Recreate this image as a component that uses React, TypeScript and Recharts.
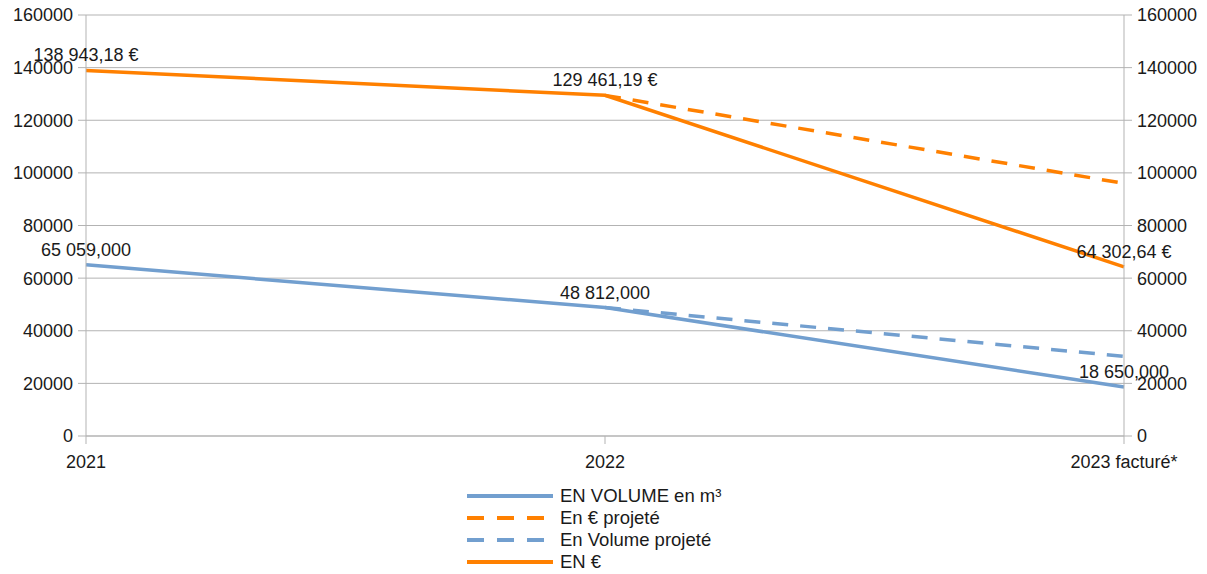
import React from 'react';
import { LineChart, Line, XAxis, YAxis, CartesianGrid, Legend, LabelList } from 'recharts';

const categories = ['2021', '2022', '2023 facturé*'];
const volume = [65059, 48812, 18650];
const euros = [138943.18, 129461.19, 64302.64];
const eurosProjected = [null, 129461.19, 96000];
const volumeProjected = [null, 48812, 30300];
const yTicks = [0, 20000, 40000, 60000, 80000, 100000, 120000, 140000, 160000];

const BLUE = '#729fcf';
const ORANGE = '#ff8000';
const GRID = '#b3b3b3';
const TEXT = '#1a1a1a';
const FONT = '"Liberation Sans", Arial, sans-serif';

const data = categories.map((c, i) => ({
  cat: c,
  volume: volume[i],
  euros: euros[i],
  eurosProjected: eurosProjected[i],
  volumeProjected: volumeProjected[i],
}));

function groupThousands(s: string) {
  return s.replace(/\B(?=(\d{3})+(?!\d))/g, ' ');
}
function fmtEuro(v: any) {
  const [i, d] = Number(v).toFixed(2).split('.');
  return `${groupThousands(i)},${d} €`;
}
function fmtVol(v: any) {
  const [i, d] = Number(v).toFixed(3).split('.');
  return `${groupThousands(i)},${d}`;
}

const legendItems = [
  { label: 'EN VOLUME en m³', color: BLUE, dash: undefined },
  { label: 'En € projeté', color: ORANGE, dash: '17 13' },
  { label: 'En Volume projeté', color: BLUE, dash: '17 13' },
  { label: 'EN €', color: ORANGE, dash: undefined },
];

const renderLegend = () => (
  <div style={{ marginLeft: 459, fontFamily: FONT, fontSize: 18.5, color: TEXT }}>
    {legendItems.map((it) => (
      <div key={it.label} style={{ display: 'flex', alignItems: 'center', height: 22 }}>
        <svg width={86} height={22} style={{ display: 'block' }}>
          <line x1={0} y1={11} x2={86} y2={11} stroke={it.color} strokeWidth={4} strokeDasharray={it.dash} />
        </svg>
        <span style={{ marginLeft: 7, lineHeight: '22px', whiteSpace: 'nowrap' }}>{it.label}</span>
      </div>
    ))}
  </div>
);

const tickStyle = { fontSize: 18, fill: TEXT, fontFamily: FONT };

export default function App() {
  return (
    <div style={{ width: 1191, height: 566, fontFamily: FONT }}>
      <LineChart width={1191} height={566} data={data} margin={{ top: 7, right: 0, left: 0, bottom: 1 }}>
        <CartesianGrid yAxisId="left" vertical={false} stroke={GRID} strokeWidth={1} />
        <XAxis
          dataKey="cat"
          scale="point"
          padding={{ left: 0, right: 0 }}
          interval={0}
          height={49}
          tickSize={8}
          tickMargin={11}
          tick={tickStyle}
          stroke={GRID}
          axisLine={{ stroke: GRID }}
          tickLine={{ stroke: GRID }}
        />
        <YAxis
          yAxisId="left"
          orientation="left"
          width={78}
          domain={[0, 160000]}
          ticks={yTicks}
          interval={0}
          tickSize={8}
          tickMargin={5}
          tick={tickStyle}
          axisLine={{ stroke: GRID }}
          tickLine={{ stroke: GRID }}
        />
        <YAxis
          yAxisId="right"
          orientation="right"
          width={75}
          domain={[0, 160000]}
          ticks={yTicks}
          interval={0}
          tickSize={8}
          tickMargin={5}
          tick={tickStyle}
          axisLine={{ stroke: GRID }}
          tickLine={{ stroke: GRID }}
        />
        <Legend verticalAlign="bottom" content={renderLegend} />
        <Line
          yAxisId="left"
          type="linear"
          dataKey="volume"
          name="EN VOLUME en m³"
          stroke={BLUE}
          strokeWidth={3.5}
          dot={false}
          activeDot={false}
          isAnimationActive={false}
        >
          <LabelList dataKey="volume" position="top" offset={9} formatter={fmtVol} style={{ fontSize: 18, fill: TEXT, fontFamily: FONT }} />
        </Line>
        <Line
          yAxisId="right"
          type="linear"
          dataKey="eurosProjected"
          name="En € projeté"
          stroke={ORANGE}
          strokeWidth={3.5}
          strokeDasharray="16 12"
          dot={false}
          activeDot={false}
          connectNulls={false}
          isAnimationActive={false}
        />
        <Line
          yAxisId="left"
          type="linear"
          dataKey="volumeProjected"
          name="En Volume projeté"
          stroke={BLUE}
          strokeWidth={3.5}
          strokeDasharray="16 12"
          dot={false}
          activeDot={false}
          isAnimationActive={false}
        />
        <Line
          yAxisId="right"
          type="linear"
          dataKey="euros"
          name="EN €"
          stroke={ORANGE}
          strokeWidth={3.5}
          dot={false}
          activeDot={false}
          isAnimationActive={false}
        >
          <LabelList dataKey="euros" position="top" offset={9} formatter={fmtEuro} style={{ fontSize: 18, fill: TEXT, fontFamily: FONT }} />
        </Line>
      </LineChart>
    </div>
  );
}
